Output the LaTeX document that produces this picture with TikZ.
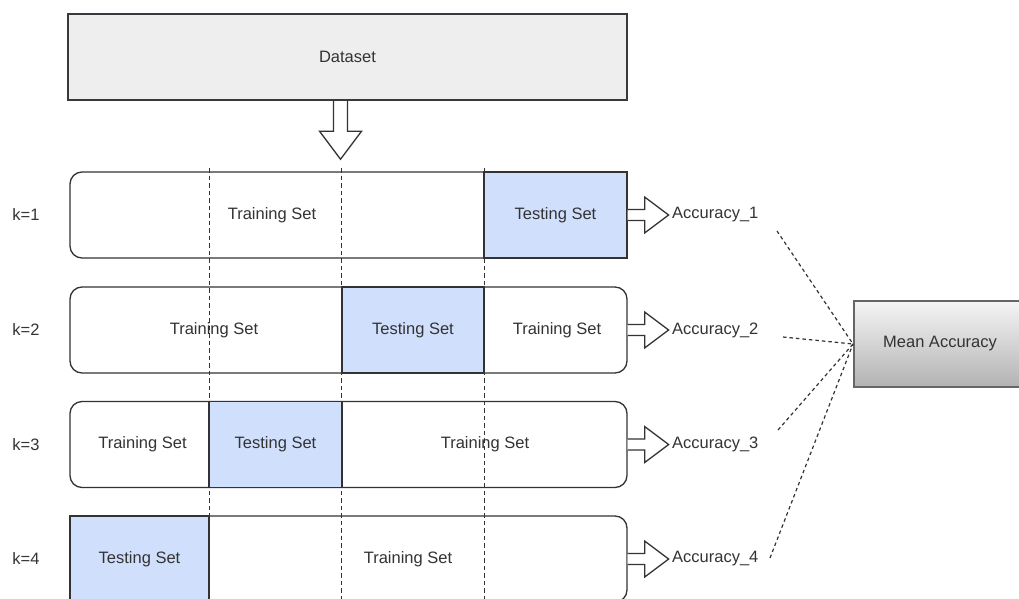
\documentclass[tikz,border=0pt]{standalone}
\usepackage{fontspec}
\setmainfont{Liberation Sans}
\definecolor{ln}{HTML}{333333}
\definecolor{txt}{HTML}{333333}
\definecolor{testblue}{HTML}{D0E0FC}
\definecolor{dsfill}{HTML}{EEEEEE}
\definecolor{dsline}{HTML}{36393D}
\begin{document}
\begin{tikzpicture}[x=1pt,y=-1pt,
  font=\fontsize{16.5}{20}\selectfont, text=txt,
  line/.style={draw=ln, line width=1.3pt},
  rowbox/.style={line, fill=white, rounded corners=12pt, minimum height=86pt, inner sep=0pt},
  testbox/.style={line, fill=testblue, minimum height=86pt, inner sep=0pt},
  lbl/.style={inner sep=0pt},
  blockarrow/.style={draw=ln, line width=1.3pt, fill=white, line join=miter},
  vdash/.style={draw=ln, line width=1pt, dash pattern=on 4.5pt off 3pt},
  cdash/.style={draw=ln, line width=1.2pt, dash pattern=on 3.5pt off 3pt}]
\useasboundingbox (0,0) rectangle (1019,599);

% Dataset
\node[draw=dsline, line width=2.5pt, fill=dsfill, minimum width=559pt, minimum height=86pt, inner sep=0pt] (ds) at (347.5,57) {Dataset};
\coordinate (dsa) at ([xshift=-7pt]ds.south);
\draw[blockarrow] (dsa) ++(-7,0) -- ++(0,30) -- ++(-14,0) -- ++(21,28) -- ++(21,-28) -- ++(-14,0) -- ++(0,-30);

% rows
\node[rowbox, minimum width=557pt] (r1) at (348.5,215) {};
\node[rowbox, minimum width=557pt] (r2) at (348.5,330) {};
\node[rowbox, minimum width=557pt] (r3) at (348.5,444.5) {};
\node[rowbox, minimum width=557pt] (r4) at (348.5,559) {};

% testing boxes
\node[testbox, minimum width=143pt] (t1) at (555.5,215) {Testing Set};
\node[testbox, minimum width=142pt] (t2) at (413,330) {Testing Set};
\node[testbox, minimum width=133pt] (t3) at (275.5,444.5) {Testing Set};
\node[testbox, minimum width=139pt] (t4) at (139.5,559) {Testing Set};

% training labels
\node[lbl] (tr1) at (272,215) {Training Set};
\node[lbl] (tr2a) at (214,330) {Training Set};
\node[lbl] (tr2b) at (557,330) {Training Set};
\node[lbl] (tr3a) at (142.5,444.5) {Training Set};
\node[lbl] (tr3b) at (485,444.5) {Training Set};
\node[lbl] (tr4) at (408,559) {Training Set};

% k labels
\node[lbl] (k1) at (26,215) {k=1};
\node[lbl] (k2) at (26,330) {k=2};
\node[lbl] (k3) at (26,444.5) {k=3};
\node[lbl] (k4) at (26,559) {k=4};

% dashed verticals
\coordinate (v1t) at (209,168); \coordinate (v1b) at (209,600);
\coordinate (v2t) at (341.5,168); \coordinate (v2b) at (341.5,600);
\coordinate (v3t) at (484,168); \coordinate (v3b) at (484,600);
\draw[vdash] (v1t) -- (v1b);
\draw[vdash] (v2t) -- (v2b);
\draw[vdash] (v3t) -- (v3b);

% accuracy arrows and labels
\foreach \r in {1,2,3,4}{
  \draw[blockarrow] (r\r.east) ++(0,-5.5) -- ++(17,0) -- ++(0,-12.5) -- ++(24,18) -- ++(-24,18) -- ++(0,-12.5) -- ++(-17,0);
}
\node[lbl, anchor=west] (a1) at (672,215) {Accuracy\_1};
\node[lbl, anchor=west] (a2) at (672,330) {Accuracy\_2};
\node[lbl, anchor=west] (a3) at (672,444.5) {Accuracy\_3};
\node[lbl, anchor=west] (a4) at (672,559) {Accuracy\_4};

% mean accuracy
\node[draw=black!60, line width=2pt, top color=black!4, bottom color=black!30, minimum width=172pt, minimum height=86pt, inner sep=0pt] (mean) at (940,344) {Mean Accuracy};

% dashed connectors
\coordinate (s1) at (777,231);
\coordinate (s2) at (783,337);
\coordinate (s3) at (778,430);
\coordinate (s4) at (770,558);
\draw[cdash] (s1) -- (mean.west);
\draw[cdash] (s2) -- (mean.west);
\draw[cdash] (s3) -- (mean.west);
\draw[cdash] (s4) -- (mean.west);
\end{tikzpicture}
\end{document}
